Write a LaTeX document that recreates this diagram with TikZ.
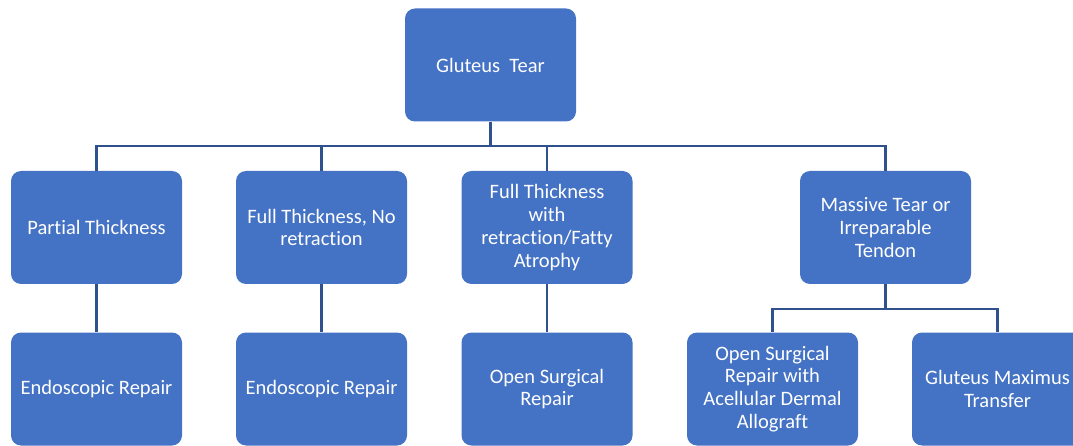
\documentclass[tikz,border=0pt]{standalone}
\usepackage{fontspec}
\setmainfont[Ligatures=NoCommon]{Carlito}
\definecolor{boxblue}{HTML}{4472C4}
\definecolor{lineblue}{HTML}{2F528F}
\begin{document}
\begin{tikzpicture}[x=1pt,y=-1pt,
  box/.style={fill=boxblue, rounded corners=10pt, minimum width=171pt, minimum height=113pt,
    text=white, align=center, font=\fontsize{20.5}{22.8}\selectfont, inner sep=0pt},
  link/.style={draw=lineblue, line width=2.5pt}]
\useasboundingbox (0,0) rectangle (1073,446);
\clip (0,0) rectangle (1073,446);
\node[box] (top) at (490.5,65) {Gluteus~~Tear};
\node[box] (a) at (96.5,227.5) {Partial Thickness};
\node[box] (b) at (321.5,227.5) {Full Thickness, No\\retraction};
\node[box] (c) at (547,227.5) {Full Thickness\\with\\retraction/Fatty\\Atrophy};
\node[box] (d) at (885.5,227.5) {Massive Tear or\\Irreparable\\Tendon};
\node[box] (a2) at (96.5,389) {Endoscopic Repair};
\node[box] (b2) at (321.5,389) {Endoscopic Repair};
\node[box] (c2) at (547,389) {Open Surgical\\Repair};
\node[box] (d1) at (772.5,389) {Open Surgical\\Repair with\\Acellular Dermal\\Allograft};
\node[box] (d2) at (997.5,389) {Gluteus Maximus\\Transfer};
\coordinate (bus) at (0,146);
\coordinate (bus2) at (0,309);
\draw[link] (top.south) -- (top.south |- bus);
\draw[link] (a.north) |- (d.north |- bus) -- (d.north);
\draw[link] (b.north) -- (b.north |- bus);
\draw[link] (c.north) -- (c.north |- bus);
\draw[link] (a.south) -- (a2.north);
\draw[link] (b.south) -- (b2.north);
\draw[link] (c.south) -- (c2.north);
\draw[link] (d.south) -- (d.south |- bus2);
\draw[link] (d1.north) |- (d2.north |- bus2) -- (d2.north);
\end{tikzpicture}
\end{document}
